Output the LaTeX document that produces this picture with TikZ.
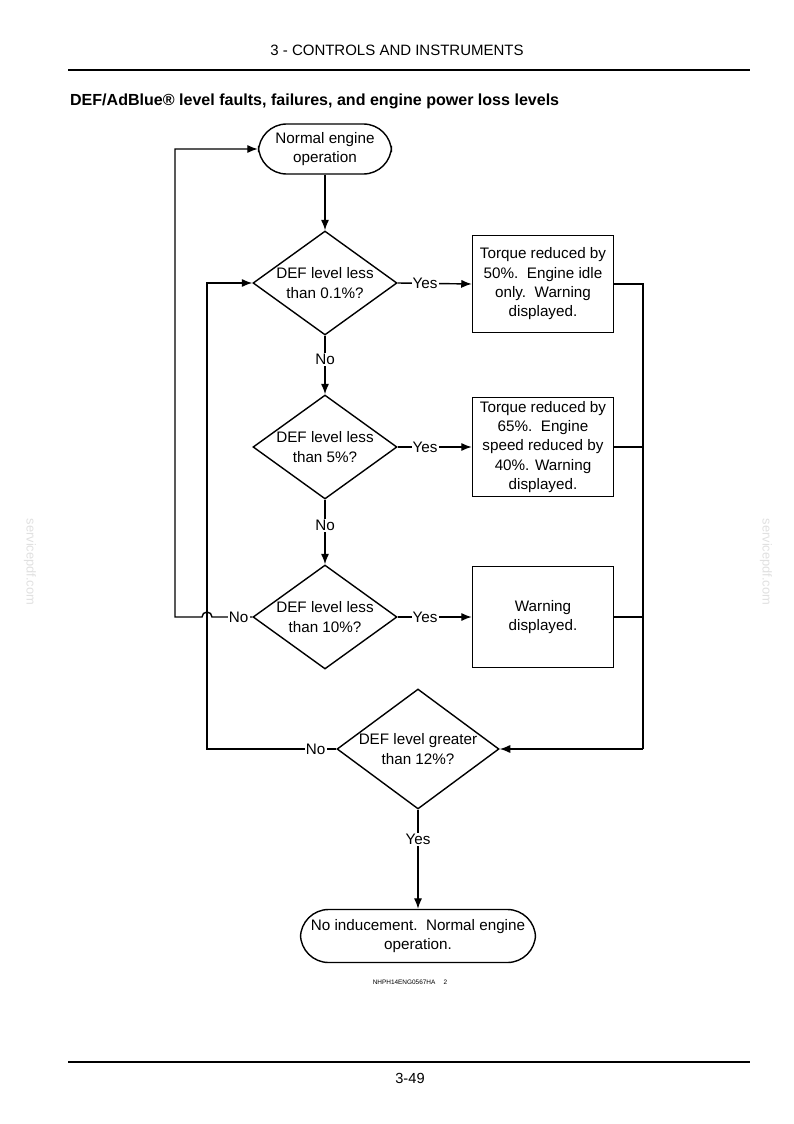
\documentclass[tikz,border=0pt]{standalone}
\usepackage{fontspec}
\setmainfont{Liberation Sans}
\usetikzlibrary{shapes.geometric,positioning,arrows.meta}
\tikzset{
  txt/.style={font=\fontsize{13}{16.5}\selectfont, align=center},
  term/.style={draw, line width=1.2pt, rounded corners=24pt, inner sep=0pt, txt},
  proc/.style={draw, line width=1.2pt, rectangle, inner sep=0pt, txt},
  dec/.style={draw, line width=1.2pt, diamond, inner sep=0pt},
  lbl/.style={fill=white, inner sep=1pt, txt},
  arr/.style={line width=1.2pt, -{Latex[length=9pt,width=7pt]}},
  ln/.style={line width=1.2pt}
}
\begin{document}
\begin{tikzpicture}[x=0.03cm, y=-0.03cm]
\useasboundingbox (0,0) rectangle (794,1124);
% page header and footer
\node[font=\fontsize{12.8}{15}\selectfont] (head) at (397,50) {3 - CONTROLS AND INSTRUMENTS};
\draw[line width=1pt] (68,70) -- (750,70);
\node[anchor=west, font=\bfseries\fontsize{13.7}{16}\selectfont] (title) at (66,101) {DEF/AdBlue\textregistered{} level faults, failures, and engine power loss levels};
\draw[line width=1pt] (68,1062) -- (750,1062);
\node[font=\fontsize{12.5}{15}\selectfont] (pnum) at (410,1078) {3-49};
\node[font=\fontsize{5.5}{6}\selectfont] (code) at (410,982) {NHPH14ENG0567HA \quad 2};
\node[rotate=-90, text=black!12, font=\fontsize{11}{12}\selectfont] (wml) at (30,562) {servicepdf.com};
\node[rotate=-90, text=black!12, font=\fontsize{11}{12}\selectfont] (wmr) at (766,562) {servicepdf.com};

% flow chart
\node[term, minimum width=133*0.03cm, minimum height=50*0.03cm] (start) at (325,149) {Normal engine\\operation};
\node[dec, minimum width=144*0.03cm, minimum height=104*0.03cm, label={[txt]center:DEF level less\\than 0.1\%?}] (d1) at (325,283) {};
\node[dec, minimum width=144*0.03cm, minimum height=104*0.03cm, label={[txt]center:DEF level less\\than 5\%?}] (d2) at (325,447) {};
\node[dec, minimum width=144*0.03cm, minimum height=104*0.03cm, label={[txt]center:DEF level less\\than 10\%?}] (d3) at (325,617) {};
\node[dec, minimum width=162*0.03cm, minimum height=120*0.03cm, label={[txt]center:DEF level greater\\than 12\%?}] (d4) at (418,749) {};
\node[proc, minimum width=141*0.03cm, minimum height=97*0.03cm] (b1) at (543,284) {Torque reduced by\\50\%.\ \ Engine idle\\only.\ \ Warning\\displayed.};
\node[proc, minimum width=141*0.03cm, minimum height=99*0.03cm] (b2) at (543,447) {Torque reduced by\\65\%.\ \ Engine\\speed reduced by\\40\%. Warning\\displayed.};
\node[proc, minimum width=141*0.03cm, minimum height=101*0.03cm] (b3) at (543,617) {Warning\\displayed.};
\node[term, minimum width=235*0.03cm, minimum height=53*0.03cm] (stop) at (418,936) {No inducement.\ \ Normal engine\\operation.};

\coordinate (rjoin) at (643,749);
\coordinate (jmp) at (212,617);

\draw[arr] (start) -- (d1);
\draw[arr] (d1) -- node[lbl, pos=0.4]{No} (d2);
\draw[arr] (d2) -- node[lbl, pos=0.4]{No} (d3);
\draw[arr] (d4) -- node[lbl, pos=0.3]{Yes} (stop);
\draw[arr] (d1.east) -- node[lbl, pos=0.37]{Yes} (b1.west);
\draw[arr] (d2.east) -- node[lbl, pos=0.37]{Yes} (b2.west);
\draw[arr] (d3.east) -- node[lbl, pos=0.37]{Yes} (b3.west);
\draw[ln] (b1.east) -| (rjoin);
\draw[ln] (b2.east) -- (b2.east -| rjoin);
\draw[ln] (b3.east) -- (b3.east -| rjoin);
\draw[arr] (rjoin) -- (d4.east);
\draw[arr] (d4.west) -- node[lbl, pos=0.16]{No} (207,749) |- (d1.west);
\draw[arr] (d3.west) -- node[lbl, pos=0.34]{No} (jmp) arc (0:-180:5) -- (175,617) |- (start.west);
\end{tikzpicture}
\end{document}
